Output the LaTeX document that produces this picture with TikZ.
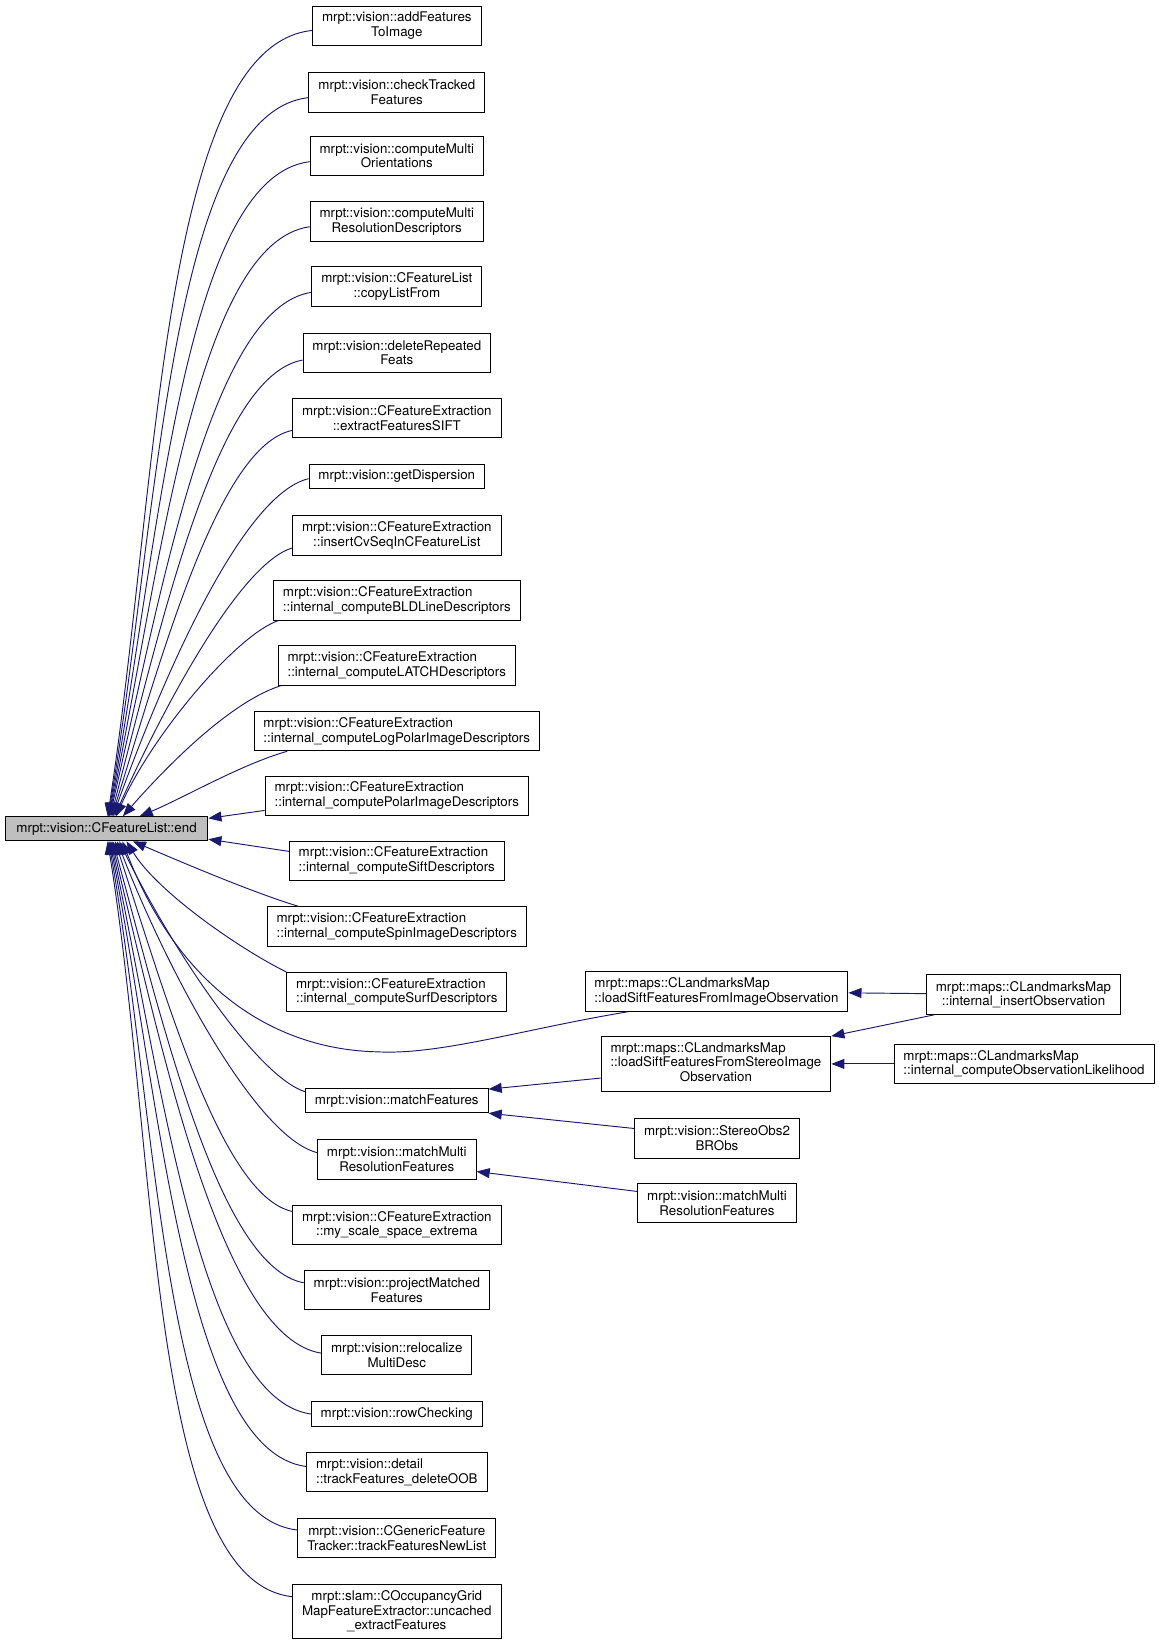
\documentclass[tikz,border=0pt]{standalone}
\usepackage{fontspec}
\setmainfont{TeX Gyre Heros}
\usetikzlibrary{arrows.meta}
\definecolor{midnightblue}{HTML}{191970}
\definecolor{grey75}{HTML}{BFBFBF}

\begin{document}
\begin{tikzpicture}[x=1pt,y=1pt,>={Triangle[length=12.5pt,width=9.5pt]}]
\tikzstyle{box}=[draw=black,line width=0.9pt,fill=white,inner xsep=9pt,inner ysep=2pt,font=\fontsize{12.7}{14}\selectfont,minimum height=23pt]
\tikzstyle{two}=[box,minimum height=37.5pt,align=center]
\tikzstyle{twol}=[box,minimum height=37.5pt,align=left]
\tikzstyle{three}=[box,minimum height=52pt,align=center]
\tikzstyle{edge}=[->,draw=midnightblue,line width=0.9pt]

\useasboundingbox (0,0) rectangle (1104,-1568);

\node[box,fill=grey75,minimum width=193pt] (main) at (101.5,-789.5) {mrpt::vision::CFeatureList::end};

% callers
\node[two]  (n1)  at (378,-24.5)  {mrpt::vision::addFeatures\\ToImage};
\node[two]  (n2)  at (378,-88)    {mrpt::vision::checkTracked\\Features};
\node[two]  (n3)  at (378,-148.5) {mrpt::vision::computeMulti\\Orientations};
\node[two]  (n4)  at (378,-211)   {mrpt::vision::computeMulti\\ResolutionDescriptors};
\node[two]  (n5)  at (378,-273)   {mrpt::vision::CFeatureList\\::copyListFrom};
\node[two]  (n6)  at (378,-336)   {mrpt::vision::deleteRepeated\\Feats};
\node[two]  (n7)  at (378,-398)   {mrpt::vision::CFeatureExtraction\\::extractFeaturesSIFT};
\node[box]  (n8)  at (378,-454)   {mrpt::vision::getDispersion};
\node[two]  (n9)  at (378,-510)   {mrpt::vision::CFeatureExtraction\\::insertCvSeqInCFeatureList};
\node[twol] (n10) at (378,-572)   {mrpt::vision::CFeatureExtraction\\::internal\_computeBLDLineDescriptors};
\node[twol] (n11) at (378,-634)   {mrpt::vision::CFeatureExtraction\\::internal\_computeLATCHDescriptors};
\node[twol] (n12) at (378,-696.5) {mrpt::vision::CFeatureExtraction\\::internal\_computeLogPolarImageDescriptors};
\node[twol] (n13) at (378,-758)   {mrpt::vision::CFeatureExtraction\\::internal\_computePolarImageDescriptors};
\node[twol] (n14) at (378,-820)   {mrpt::vision::CFeatureExtraction\\::internal\_computeSiftDescriptors};
\node[twol] (n15) at (378,-882.5) {mrpt::vision::CFeatureExtraction\\::internal\_computeSpinImageDescriptors};
\node[twol] (n16) at (378,-945)   {mrpt::vision::CFeatureExtraction\\::internal\_computeSurfDescriptors};
\node[box]  (n17) at (378,-1048.5) {mrpt::vision::matchFeatures};
\node[two]  (n18) at (378,-1104.5) {mrpt::vision::matchMulti\\ResolutionFeatures};
\node[two]  (n19) at (378,-1167)  {mrpt::vision::CFeatureExtraction\\::my\_scale\_space\_extrema};
\node[two]  (n20) at (378,-1229)  {mrpt::vision::projectMatched\\Features};
\node[two]  (n21) at (378,-1291)  {mrpt::vision::relocalize\\MultiDesc};
\node[box]  (n22) at (378,-1347)  {mrpt::vision::rowChecking};
\node[twol] (n23) at (378,-1402.5) {mrpt::vision::detail\\::trackFeatures\_deleteOOB};
\node[two]  (n24) at (378,-1465)  {mrpt::vision::CGenericFeature\\Tracker::trackFeaturesNewList};
\node[three] (n25) at (378,-1535) {mrpt::slam::COccupancyGrid\\MapFeatureExtractor::uncached\\\_extractFeatures};

% second level
\node[twol] (lsImg) at (682.5,-944.5) {mrpt::maps::CLandmarksMap\\::loadSiftFeaturesFromImageObservation};
\node[box,minimum height=52pt] (lsStereo) at (682,-1013.5) {\begin{tabular}{@{}l@{}}mrpt::maps::CLandmarksMap\\::loadSiftFeaturesFromStereoImage\\\multicolumn{1}{@{}c@{}}{Observation}\end{tabular}};
\node[two]  (so2) at (683,-1084.5) {mrpt::vision::StereoObs2\\BRObs};
\node[two]  (mmR) at (683,-1146)  {mrpt::vision::matchMulti\\ResolutionFeatures};
\node[two]  (insObs) at (975,-947.5) {mrpt::maps::CLandmarksMap\\::internal\_insertObservation};
\node[twol] (obsLik) at (975.5,-1013.5) {mrpt::maps::CLandmarksMap\\::internal\_computeObservationLikelihood};

% upper fan
\draw[edge] ([yshift=-4.5pt]n1.west) .. controls (154,-44) and (151,-463) .. ([xshift=98pt]main.north west);
\draw[edge] ([yshift=-5pt]n2.west) .. controls (162,-108) and (151.5,-490) .. ([xshift=98.5pt]main.north west);
\draw[edge] ([yshift=-5.5pt]n3.west) .. controls (175,-169) and (152,-516) .. ([xshift=99pt]main.north west);
\draw[edge] ([yshift=-5pt]n4.west) .. controls (187,-231) and (152.5,-542) .. ([xshift=99.5pt]main.north west);
\draw[edge] ([yshift=-5.5pt]n5.west) .. controls (200,-293) and (153,-568) .. ([xshift=100pt]main.north west);
\draw[edge] ([yshift=-7pt]n6.west) .. controls (205,-358) and (154,-595) .. ([xshift=101pt]main.north west);
\draw[edge] ([yshift=-12pt]n7.west) .. controls (208,-425) and (155,-623) .. ([xshift=102pt]main.north west);
\draw[edge] ([yshift=-2pt]n8.west) .. controls (231,-471) and (156,-643) .. ([xshift=103pt]main.north west);
\draw[edge] ([yshift=-12pt]n9.west) .. controls (229,-537) and (157.5,-670) .. ([xshift=104.5pt]main.north west);
\draw[edge] ([xshift=5pt]n10.south west) .. controls (225,-605) and (145,-700) .. ([xshift=106pt]main.north west);
\draw[edge] ([xshift=3pt]n11.south west) .. controls (215,-670) and (150,-740) .. ([xshift=112.5pt]main.north west);
\draw[edge] ([xshift=32pt]n12.south west) .. controls (230,-728) and (175,-760) .. ([xshift=128.5pt]main.north west);
\draw[edge] ([yshift=-14pt]n13.west) -- ([yshift=-2pt]main.north east);
\draw[edge] ([yshift=9pt]n14.west) -- ([yshift=2pt]main.south east);

% lower fan
\draw[edge] ([xshift=30pt]n15.north west) .. controls (240,-850) and (170,-820) .. ([xshift=122pt]main.south west);
\draw[edge] (n16.north west) .. controls (230,-905) and (150,-850) .. ([xshift=116pt]main.south west);
\draw[edge] ([xshift=42pt]lsImg.south west) .. controls (500,-980) and (420,-1005) .. (360,-1002)
  .. controls (260,-1000) and (170,-940) .. ([xshift=112pt]main.south west);
\draw[edge] ([yshift=8.5pt]n17.west) .. controls (244,-1025) and (162,-901) .. ([xshift=109pt]main.south west);
\draw[edge] ([yshift=6.5pt]n18.west) .. controls (244,-1083) and (160,-926) .. ([xshift=107pt]main.south west);
\draw[edge] ([yshift=13pt]n19.west) .. controls (211,-1139) and (158,-949) .. ([xshift=105pt]main.south west);
\draw[edge] ([yshift=7pt]n20.west) .. controls (209,-1207) and (156,-978) .. ([xshift=103pt]main.south west);
\draw[edge] ([yshift=2pt]n21.west) .. controls (212,-1274) and (155,-1006) .. ([xshift=102pt]main.south west);
\draw[edge] (n22.west) .. controls (191,-1332) and (154,-1030) .. ([xshift=101pt]main.south west);
\draw[edge] ([yshift=5.5pt]n23.west) .. controls (177,-1382) and (153,-1051) .. ([xshift=100pt]main.south west);
\draw[edge] ([yshift=7.5pt]n24.west) .. controls (156,-1443) and (152,-1077) .. ([xshift=99pt]main.south west);
\draw[edge] ([yshift=14pt]n25.west) .. controls (142,-1506) and (151,-1103) .. ([xshift=98pt]main.south west);

% right part
\draw[edge] (insObs) -- (lsImg);
\draw[edge] ([xshift=8pt]insObs.south west) -- (lsStereo.north east);
\draw[edge] (obsLik) -- (lsStereo);
\draw[edge] ([yshift=-13.5pt]lsStereo.west) -- ([yshift=-1pt]n17.north east);
\draw[edge] ([yshift=9.5pt]so2.west) -- (n17.south east);
\draw[edge] ([yshift=11pt]mmR.west) -- ([yshift=-11.5pt]n18.east);
\end{tikzpicture}
\end{document}
